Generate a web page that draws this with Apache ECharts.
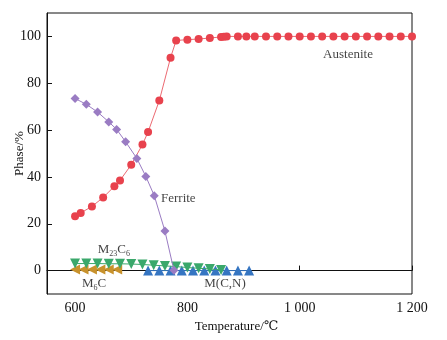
<!DOCTYPE html>
<html><head><meta charset="utf-8">
<script src="https://cdn.jsdelivr.net/npm/echarts@6/dist/echarts.min.js"></script>
<style>html,body{margin:0;padding:0;background:#fff}#c{width:447px;height:340px}</style>
</head><body><div id="c"></div>
<script>
// Temperature (°C) and phase fraction (%)
const austeniteT = [600,610,630,650,670,680,700,720,730,750,770,780,800,820,840,860,865,870,890,905,920,940,960,980,1000,1020,1040,1060,1080,1100,1120,1140,1160,1180,1200];
const austeniteV = [23.2,24.6,27.4,31.2,36.0,38.5,45.2,53.8,59.2,72.6,90.9,98.3,98.6,98.9,99.3,99.8,99.9,100,100,100,100,100,100,100,100,100,100,100,100,100,100,100,100,100,100];
const ferriteT = [600,620,640,660,674,690,710,726,741,760,776];
const ferriteV = [73.5,71.0,67.7,63.5,60.3,55.0,47.9,40.2,32.0,16.9,0.1];
const m23c6T = [600,620,640,660,680,700,720,740,760,780,800,820,840,860];
const m23c6V = [3.0,3.0,3.0,2.9,2.9,2.8,2.6,2.3,2.0,1.7,1.3,1.0,0.7,0.3];
const m6cT = [600,615,630,645,660,675];
const m6cV = [0.5,0.5,0.5,0.5,0.5,0.5];
const mcnT = [730,750,770,790,810,830,850,870,890,910];
const mcnV = [0,0,0,0,0,0,0,0,0,0];
const xTicks = [600,800,1000,1200];
const yTicks = [0,20,40,60,80,100];
const labels = [
  {name:'Austenite', at:[1086,92.2], text:'Austenite', align:'center'},
  {name:'Ferrite', at:[753,30.7], text:'Ferrite', align:'left'},
  {name:'M23C6', at:[669,9], text:'{a|M}{s|23}{a|C}{s|6}', align:'center'},
  {name:'M6C', at:[634,-5.5], text:'{a|M}{s|6}{a|C}', align:'center'},
  {name:'M(C,N)', at:[867,-5.5], text:'M(C,N)', align:'center'}
];

const zip = (a,b)=>a.map((v,i)=>[v,b[i]]);
const serif = '"Liberation Serif", "DejaVu Serif", serif';
const ink = '#111';
const chart = echarts.init(document.getElementById('c'), null, {renderer:'canvas'});
const fmt = v => v >= 1000 ? String(v).replace(/(\d)(\d{3})$/, '$1 $2') : String(v);

function mk(name, T, V, color, symbol, size, lineColor, z){
  return {name, type:'line', data: zip(T,V), symbol, symbolSize:size, z,
    itemStyle:{color}, lineStyle:{color:lineColor||color, width:1}, emphasis:{disabled:true}, animation:false};
}

const series = [
  mk('M(C,N)', mcnT, mcnV, '#3575c2', 'triangle', 10, null, 2),
  mk('M6C', m6cT, m6cV, '#c8922c', 'path://M0,5L10,0L10,10Z', 10, null, 3),
  mk('M23C6', m23c6T, m23c6V, '#3aa86b', 'path://M0,0L10,0L5,9Z', 10, null, 4),
  mk('Austenite', austeniteT, austeniteV, '#e8424d', 'circle', 8, '#ec6a72', 5),
  mk('Ferrite', ferriteT, ferriteV, '#9a7cc3', 'diamond', 9, null, 6),
  {type:'scatter', data: labels.map(l=>({value:l.at, label:{formatter:l.text, align:l.align}})),
   symbolSize:0, silent:true, z:10, animation:false,
   label:{show:true, position:'inside', color:ink, fontFamily:serif, fontSize:13,
     rich:{a:{fontFamily:serif, fontSize:13, color:ink}, s:{fontFamily:serif, fontSize:8, color:ink, padding:[9,0,0,0]}}}}
];

chart.setOption({
  backgroundColor:'#fff',
  grid:{left:47, right:35, top:13, bottom:46, outerBoundsMode:'none', containLabel:false,
    show:true, borderColor:ink, borderWidth:1},
  xAxis:{type:'value', min:550, max:1200,
    name:'Temperature/℃', nameLocation:'middle', nameGap:26, nameMoveOverlap:false,
    nameTextStyle:{fontFamily:serif, fontSize:13, color:ink, padding:[0,0,0,14]},
    axisLine:{show:true, lineStyle:{color:ink}},
    axisTick:{show:true, inside:true, length:5, customValues:xTicks, lineStyle:{color:ink}},
    axisLabel:{customValues:xTicks, formatter:fmt, fontFamily:serif, fontSize:14, color:ink, margin:7},
    splitLine:{show:false}},
  yAxis:{type:'value', min:-10, max:110,
    name:'Phase/%', nameLocation:'middle', nameGap:21, nameRotate:90, nameMoveOverlap:false,
    nameTextStyle:{fontFamily:serif, fontSize:13, color:ink},
    axisLine:{show:true, lineStyle:{color:ink}},
    axisTick:{show:true, inside:true, length:5, customValues:yTicks, lineStyle:{color:ink}},
    axisLabel:{customValues:yTicks, fontFamily:serif, fontSize:14, color:ink, margin:6},
    splitLine:{show:false}},
  series
});
</script></body></html>
